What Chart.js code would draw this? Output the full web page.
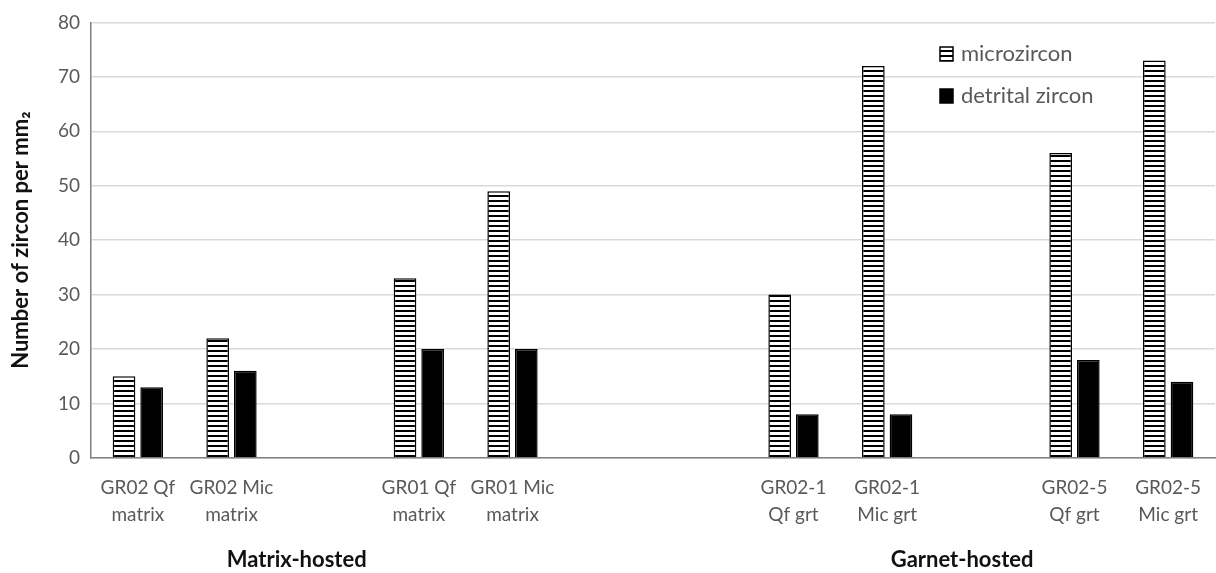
<!DOCTYPE html>
<html>
<head>
<meta charset="utf-8">
<script src="https://cdn.jsdelivr.net/npm/chart.js@4.4.1/dist/chart.umd.min.js"></script>
<style>
  html, body { margin: 0; padding: 0; background: #ffffff; }
  #wrap { width: 1216px; height: 573px; }
</style>
</head>
<body>
<div id="wrap"><canvas id="zircon"></canvas></div>
<script>
// samples, with empty slots used as spacers between the groups
const sampleLabels = [
    ['GR02 Qf', 'matrix'], ['GR02 Mic', 'matrix'], '',
    ['GR01 Qf', 'matrix'], ['GR01 Mic', 'matrix'], '', '',
    ['GR02-1', 'Qf grt'], ['GR02-1', 'Mic grt'], '',
    ['GR02-5', 'Qf grt'], ['GR02-5', 'Mic grt']
];
const microzircon = [15, 22, null, 33, 49, null, null, 30, 72, null, 56, 73];
const detritalZircon = [13, 16, null, 20, 20, null, null, 8, 8, null, 18, 14];
const yTicks = [0, 10, 20, 30, 40, 50, 60, 70, 80];
const groupLabels = ['Matrix-hosted', 'Garnet-hosted'];

const textGray = '#595959';
const gridGray = '#d9d9d9';
const axisGray = '#808080';
const fontFamily = 'Lato, "Open Sans", sans-serif';

// -----------------------------
// Helper: horizontal stripe fill
// -----------------------------
function stripePattern() {
    const c = document.createElement('canvas');
    c.width = 8;
    c.height = 5;
    const g = c.getContext('2d');
    g.fillStyle = '#ffffff';
    g.fillRect(0, 0, 8, 5);
    g.fillStyle = '#000000';
    g.fillRect(0, 0, 8, 2);
    return g.createPattern(c, 'repeat');
}
const stripes = stripePattern();

// -----------------------------
// Plugin: legend inside the plot + group captions under the axis
// -----------------------------
const extrasPlugin = {
    id: 'extras',
    afterDraw(chart) {
        const ctx = chart.ctx;
        const area = chart.chartArea;
        ctx.save();

        // legend
        const items = [
            {label: 'microzircon', fill: stripes},
            {label: 'detrital zircon', fill: '#000000'}
        ];
        ctx.font = '22px ' + fontFamily;
        ctx.textBaseline = 'middle';
        items.forEach((it, i) => {
            const y = 54 + i * 42;
            ctx.fillStyle = it.fill;
            ctx.fillRect(940, y - 7, 13, 14);
            ctx.strokeStyle = '#000000';
            ctx.lineWidth = 1.5;
            ctx.strokeRect(940, y - 7, 13, 14);
            ctx.fillStyle = textGray;
            ctx.textAlign = 'left';
            ctx.fillText(it.label, 961, y);
        });

        // group captions
        ctx.font = 'bold 22px ' + fontFamily;
        ctx.fillStyle = '#111111';
        ctx.textAlign = 'center';
        const w = area.right - area.left;
        ctx.fillText(groupLabels[0], area.left + w * 0.183, 560);
        ctx.fillText(groupLabels[1], area.left + w * 0.775, 560);
        ctx.restore();
    }
};

const ctx = document.getElementById('zircon');
new Chart(ctx, {
    type: 'bar',
    data: {
        labels: sampleLabels,
        datasets: [
            {
                label: 'microzircon',
                data: microzircon,
                backgroundColor: stripes,
                borderColor: '#000000',
                borderWidth: 1.5,
                barPercentage: 0.82,
                categoryPercentage: 0.59
            },
            {
                label: 'detrital zircon',
                data: detritalZircon,
                backgroundColor: '#000000',
                borderColor: '#000000',
                borderWidth: 1.5,
                barPercentage: 0.82,
                categoryPercentage: 0.59
            }
        ]
    },
    options: {
        responsive: true,
        maintainAspectRatio: false,
        animation: false,
        layout: {padding: {top: 8, right: 1, bottom: 36, left: 0}},
        plugins: {
            legend: {display: false},
            tooltip: {enabled: false}
        },
        scales: {
            x: {
                grid: {display: false},
                border: {display: true, color: axisGray, width: 1.5},
                ticks: {
                    color: textGray,
                    font: {family: fontFamily, size: 19, lineHeight: 1.45},
                    maxRotation: 0,
                    autoSkip: false,
                    padding: 8
                }
            },
            y: {
                min: 0,
                max: 80,
                afterBuildTicks: (scale) => {
                    scale.ticks = yTicks.map(v => ({value: v}));
                },
                afterFit: (scale) => {
                    scale.width = 91;
                },
                grid: {color: gridGray, lineWidth: 1.5, drawTicks: false},
                border: {display: true, color: axisGray, width: 1.5},
                ticks: {
                    color: textGray,
                    font: {family: fontFamily, size: 19},
                    padding: 11
                },
                title: {
                    display: true,
                    text: 'Number of zircon per mm₂',
                    color: '#111111',
                    font: {family: fontFamily, size: 22, weight: 'bold'},
                    padding: {top: 8, bottom: 6}
                }
            }
        }
    },
    plugins: [extrasPlugin]
});
</script>
</body>
</html>
